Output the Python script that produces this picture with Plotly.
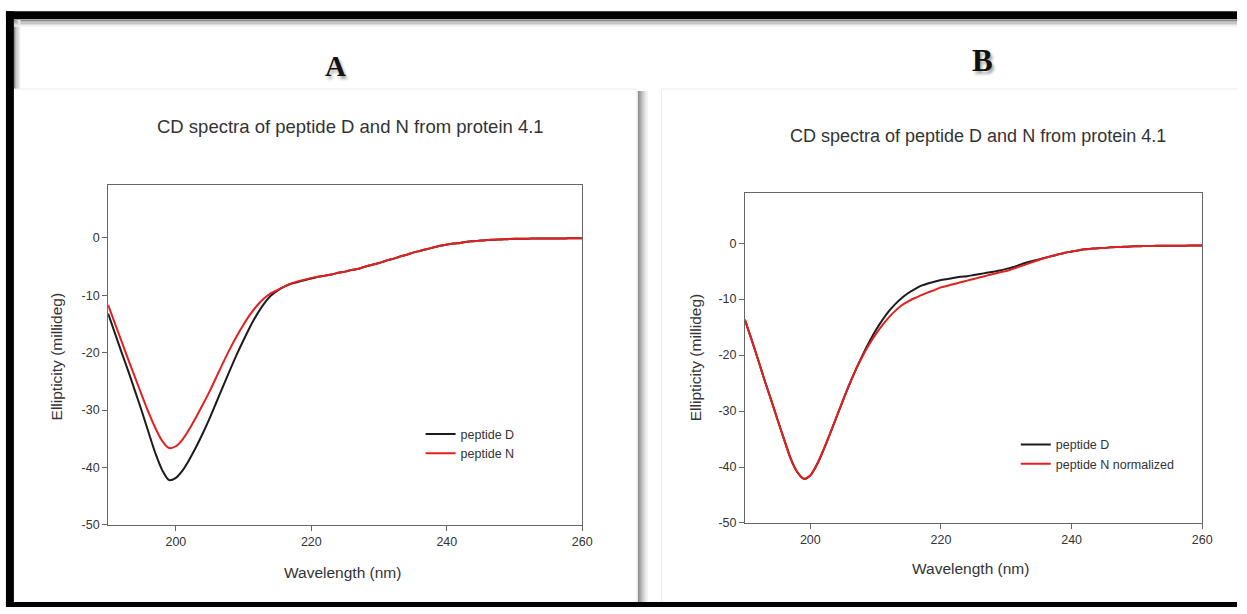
import plotly.graph_objects as go

# ---------------- data ----------------
wavelength = list(range(190, 261))

# Panel A
peptide_D_A = [-13.2, -16.6, -20.0, -23.3, -26.8, -30.3, -34.0, -37.6, -40.5, -42.2,
               -41.8, -40.5, -38.6, -36.4, -34.0, -31.4, -28.6, -25.8, -23.0, -20.3,
               -17.8, -15.4, -13.3, -11.5, -10.1, -9.2, -8.5, -8.0, -7.7, -7.4,
               -7.1, -6.8, -6.6, -6.4, -6.1, -5.9, -5.6, -5.4, -5.0, -4.7,
               -4.4, -4.0, -3.7, -3.3, -3.0, -2.6, -2.3, -2.0, -1.7, -1.4,
               -1.2, -1.0, -0.9, -0.7, -0.6, -0.5, -0.4, -0.35, -0.3, -0.25,
               -0.2, -0.18, -0.16, -0.15, -0.14, -0.13, -0.12, -0.12, -0.11, -0.1, -0.1]
peptide_N_A = [-11.7, -14.9, -18.1, -21.3, -24.4, -27.5, -30.5, -33.2, -35.4, -36.6,
               -36.3, -35.1, -33.3, -31.2, -29.0, -26.7, -24.2, -21.7, -19.3, -17.1,
               -15.1, -13.3, -11.8, -10.6, -9.7, -9.1, -8.5, -8.0, -7.6, -7.3,
               -7.0, -6.8, -6.6, -6.4, -6.1, -5.9, -5.6, -5.4, -5.0, -4.7,
               -4.4, -4.0, -3.7, -3.3, -3.0, -2.6, -2.3, -2.0, -1.7, -1.4,
               -1.2, -1.0, -0.9, -0.7, -0.6, -0.5, -0.4, -0.35, -0.3, -0.25,
               -0.2, -0.18, -0.16, -0.15, -0.14, -0.13, -0.12, -0.12, -0.11, -0.1, -0.1]

# Panel B
peptide_D_B = [-13.7, -17.2, -20.8, -24.5, -28.0, -31.6, -35.1, -38.5, -40.9, -42.1,
               -41.5, -39.6, -37.0, -34.1, -31.1, -28.1, -25.2, -22.5, -20.0, -17.7,
               -15.6, -13.8, -12.2, -10.9, -9.8, -8.9, -8.2, -7.6, -7.2, -6.9,
               -6.6, -6.4, -6.2, -6.0, -5.9, -5.7, -5.5, -5.3, -5.1, -4.9,
               -4.6, -4.3, -3.9, -3.5, -3.2, -2.9, -2.6, -2.3, -2.0, -1.7,
               -1.5, -1.3, -1.1, -1.0, -0.9, -0.85, -0.75, -0.7, -0.65, -0.6,
               -0.55, -0.52, -0.5, -0.48, -0.47, -0.46, -0.45, -0.45, -0.44, -0.44, -0.44]
peptide_N_norm_B = [-13.7, -17.2, -20.8, -24.5, -28.0, -31.6, -35.1, -38.5, -40.9, -42.1,
                    -41.5, -39.6, -37.0, -34.1, -31.1, -28.1, -25.2, -22.5, -20.2, -18.1,
                    -16.3, -14.7, -13.3, -12.1, -11.1, -10.4, -9.8, -9.3, -8.8, -8.4,
                    -7.9, -7.6, -7.3, -7.0, -6.7, -6.4, -6.1, -5.8, -5.5, -5.2,
                    -5.0, -4.6, -4.2, -3.8, -3.4, -3.0, -2.6, -2.3, -2.0, -1.7,
                    -1.5, -1.3, -1.1, -1.0, -0.9, -0.85, -0.75, -0.7, -0.65, -0.6,
                    -0.55, -0.52, -0.5, -0.48, -0.47, -0.46, -0.45, -0.45, -0.44, -0.44, -0.44]

x_ticks = [200, 220, 240, 260]
x_tick_labels = ["200", "220", "240", "260"]
y_ticks = [-50, -40, -30, -20, -10, 0]
y_tick_labels = ["-50", "-40", "-30", "-20", "-10", "0"]
panel_labels = ["A", "B"]
chart_title = "CD spectra of peptide D and N from protein 4.1"
x_title = "Wavelength (nm)"
y_title = "Ellipticity (millideg)"

# ---------------- figure ----------------
W, H = 1247, 614
def px(x):
    return x / W
def py(y):
    return 1 - y / H

BLACK = "#1b1b1b"
RED = "#e3201f"
TXT = "#333333"
FONT = "Liberation Sans, Arial, sans-serif"

fig = go.Figure()

fig.add_trace(go.Scatter(x=wavelength, y=peptide_D_A, name="peptide D", mode="lines",
                         line=dict(color=BLACK, width=2, shape="spline", smoothing=0.8),
                         xaxis="x", yaxis="y", legend="legend"))
fig.add_trace(go.Scatter(x=wavelength, y=peptide_N_A, name="peptide N", mode="lines",
                         line=dict(color=RED, width=2, shape="spline", smoothing=0.8),
                         xaxis="x", yaxis="y", legend="legend"))
fig.add_trace(go.Scatter(x=wavelength, y=peptide_D_B, name="peptide D", mode="lines",
                         line=dict(color=BLACK, width=2, shape="spline", smoothing=0.8),
                         xaxis="x2", yaxis="y2", legend="legend2"))
fig.add_trace(go.Scatter(x=wavelength, y=peptide_N_norm_B, name="peptide N normalized", mode="lines",
                         line=dict(color=RED, width=2, shape="spline", smoothing=0.8),
                         xaxis="x2", yaxis="y2", legend="legend2"))

axis_common = dict(showgrid=False, zeroline=False, showline=True, linecolor="#666666",
                   linewidth=1, mirror=True, ticks="outside", ticklen=5, tickwidth=1,
                   tickcolor="#666666", tickfont=dict(family=FONT, size=12.5, color=TXT))

fig.update_layout(
    width=W, height=H,
    margin=dict(l=0, r=0, t=0, b=0),
    paper_bgcolor="white", plot_bgcolor="white",
    showlegend=True,
    xaxis=dict(domain=[px(109), px(587)], range=[190, 260], tickvals=x_ticks,
               ticktext=x_tick_labels, anchor="y", **axis_common),
    yaxis=dict(domain=[py(531), py(187)], range=[-50, 9.2], tickvals=y_ticks,
               ticktext=y_tick_labels, anchor="x", **axis_common),
    xaxis2=dict(domain=[px(751), px(1212)], range=[190, 260], tickvals=x_ticks,
                ticktext=x_tick_labels, anchor="y2", **axis_common),
    yaxis2=dict(domain=[py(529), py(195)], range=[-50, 9.0], tickvals=y_ticks,
                ticktext=y_tick_labels, anchor="x2", **axis_common),
    legend=dict(x=px(424), y=py(449), xanchor="left", yanchor="middle",
                bgcolor="rgba(0,0,0,0)", borderwidth=0, itemwidth=30,
                font=dict(family=FONT, size=12.5, color=TXT)),
    legend2=dict(x=px(1024), y=py(459.5), xanchor="left", yanchor="middle",
                 bgcolor="rgba(0,0,0,0)", borderwidth=0, itemwidth=30,
                 font=dict(family=FONT, size=12.5, color=TXT)),
)

shapes = []
# soft shadows (gradients approximated by stacked strips)
grays = ["#8c8c8c", "#a8a8a8", "#c4c4c4", "#dddddd", "#efefef"]
for i, g in enumerate(grays):
    shapes.append(dict(type="rect", xref="paper", yref="paper",
                       x0=px(643 + 2 * i), x1=px(645 + 2 * i), y0=py(609), y1=py(92),
                       fillcolor=g, line=dict(width=0), layer="below"))
    shapes.append(dict(type="rect", xref="paper", yref="paper",
                       x0=px(14), x1=px(1247), y0=py(20 + 1.4 * i), y1=py(21.4 + 1.4 * i),
                       fillcolor=g, line=dict(width=0), layer="below"))
    shapes.append(dict(type="rect", xref="paper", yref="paper",
                       x0=px(14 + 1.3 * i), x1=px(15.3 + 1.3 * i), y0=py(90), y1=py(20),
                       fillcolor=g, line=dict(width=0), layer="below"))
# faint card edges
for (x0, y0, x1, y1) in [(14, 90, 642, 90), (642, 90, 642, 609), (667, 90, 1247, 90), (667, 90, 667, 609)]:
    shapes.append(dict(type="line", xref="paper", yref="paper",
                       x0=px(x0), y0=py(y0), x1=px(x1), y1=py(y1),
                       line=dict(color="#ececec", width=1), layer="below"))
# black frame
for (x0, y0, x1, y1) in [(6, 11.5, 1247, 19.5), (6, 11.5, 14, 614), (6, 609, 1247, 614)]:
    shapes.append(dict(type="rect", xref="paper", yref="paper",
                       x0=px(x0), x1=px(x1), y0=py(y1), y1=py(y0),
                       fillcolor="#000000", line=dict(width=0), layer="above"))
fig.update_layout(shapes=shapes)

ann = []
def text(x, y, s, size, color=TXT, family=FONT, angle=0, bold=False, shadow=None):
    f = dict(family=family, size=size, color=color)
    if shadow:
        f["shadow"] = shadow
    ann.append(dict(x=px(x), y=py(y), xref="paper", yref="paper", text=("<b>%s</b>" % s) if bold else s,
                    showarrow=False, xanchor="center", yanchor="middle", textangle=angle, font=f))

SERIF = "Liberation Serif, Times New Roman, serif"
text(338, 67, panel_labels[0], 29, color="#111111", family=SERIF, bold=True,
     shadow="2px 3px 3px rgba(0,0,0,0.35)")
text(990, 61, panel_labels[1], 31, color="#111111", family=SERIF, bold=True,
     shadow="2px 3px 3px rgba(0,0,0,0.35)")
text(353, 128, chart_title, 18.5)
text(986, 138, chart_title, 18)
text(345, 579, x_title, 15.5)
text(978, 575, x_title, 15.5)
text(57, 361, y_title, 15.5, angle=-90)
text(702, 362, y_title, 15.5, angle=-90)
fig.update_layout(annotations=ann)

fig.write_html("out.html")
